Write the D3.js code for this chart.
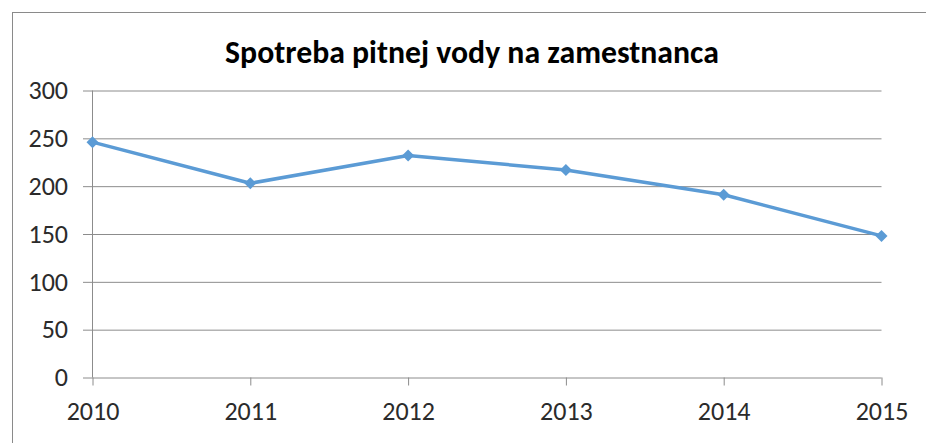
<!DOCTYPE html>
<html>
<head>
<meta charset="utf-8">
<script src="https://cdn.jsdelivr.net/npm/d3@7"></script>
<style>
  body { margin: 0; background: #fff; }
  svg { display: block; }
  text { font-family: Calibri, Carlito, "Open Sans", sans-serif; }
</style>
</head>
<body>
<div id="chart"></div>
<script>
// data
const years = [2010, 2011, 2012, 2013, 2014, 2015];
const values = [246, 203, 232, 217, 191, 148];
const yTicks = [0, 50, 100, 150, 200, 250, 300];
const title = "Spotreba pitnej vody na zamestnanca";

const W = 926, H = 443;
const m = {left: 92.5, right: 881.5, top: 90.5, bottom: 377.5};
const labelSize = 26;

const svg = d3.select("#chart").append("svg")
    .attr("width", W)
    .attr("height", H);

// chart frame (only top and left edges are inside the picture)
svg.append("rect")
    .attr("x", 12.5).attr("y", 12.5)
    .attr("width", 1000).attr("height", 1000)
    .attr("fill", "#fff")
    .attr("stroke", "#8a8a8a");

const x = d3.scalePoint().domain(years).range([m.left, m.right]);
const y = d3.scaleLinear().domain([0, 300]).range([m.bottom, m.top]);

// gridlines, running from the tick stubs on the left to the last year
const grid = svg.append("g")
    .attr("transform", "translate(" + m.right + ",0)")
    .call(d3.axisLeft(y).tickValues(yTicks).tickSize(m.right - 83).tickFormat(""));
grid.select(".domain").remove();
grid.selectAll("line").attr("stroke", "#8c8c8c");

// y labels
const yAx = svg.append("g")
    .attr("transform", "translate(83,0)")
    .call(d3.axisLeft(y).tickValues(yTicks).tickSize(0).tickPadding(15));
yAx.select(".domain").remove();
yAx.selectAll("text").attr("font-size", labelSize).attr("fill", "#2b2b2b")
    .style("font-family", "Calibri, Carlito, 'Open Sans', sans-serif");

// vertical axis line
svg.append("line")
    .attr("x1", m.left).attr("x2", m.left)
    .attr("y1", y(300)).attr("y2", y(0))
    .attr("stroke", "#8c8c8c");

// x axis
const xAx = svg.append("g")
    .attr("transform", "translate(0," + m.bottom + ")")
    .call(d3.axisBottom(x).tickSize(8).tickPadding(16));
xAx.select(".domain").remove();
xAx.selectAll("line").attr("stroke", "#8c8c8c");
xAx.selectAll("text").attr("font-size", labelSize).attr("fill", "#2b2b2b")
    .style("font-family", "Calibri, Carlito, 'Open Sans', sans-serif");

// the series
const pts = years.map((yr, i) => [x(yr), y(values[i])]);

svg.append("path")
    .datum(pts)
    .attr("d", d3.line())
    .attr("fill", "none")
    .attr("stroke", "#5b9bd5")
    .attr("stroke-width", 3.5)
    .attr("stroke-linejoin", "round");

svg.selectAll(".marker")
    .data(pts)
    .enter()
    .append("path")
    .attr("class", "marker")
    .attr("d", d3.symbol().type(d3.symbolSquare).size(72))
    .attr("transform", d => "translate(" + d[0] + "," + d[1] + ") rotate(45)")
    .attr("fill", "#5b9bd5");

// title, sized to the width it has in the picture
const t = svg.append("text")
    .attr("x", 472)
    .attr("y", 63)
    .attr("text-anchor", "middle")
    .attr("font-weight", "bold")
    .attr("font-size", 28)
    .attr("fill", "#000")
    .text(title);
const tw = t.node().getComputedTextLength();
t.attr("font-size", 28 * 494 / tw);
</script>
</body>
</html>
